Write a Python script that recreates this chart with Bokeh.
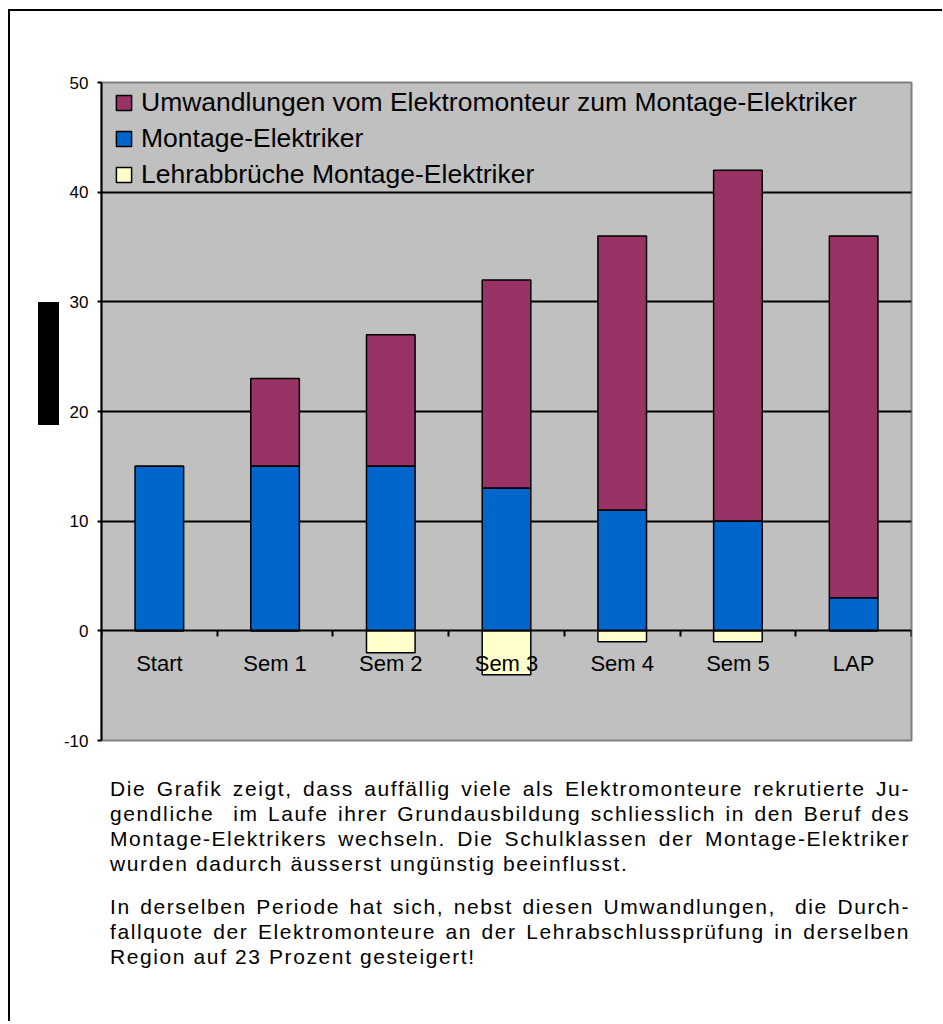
from bokeh.plotting import figure
from bokeh.models import (FixedTicker, Legend, LegendItem, Div,
                          ColumnDataSource, Range1d)
from bokeh.layouts import column, row
from bokeh.embed import file_html
from bokeh.resources import INLINE

# ---------------- data ----------------
categories = ["Start", "Sem 1", "Sem 2", "Sem 3", "Sem 4", "Sem 5", "LAP"]
montage_elektriker = [15, 15, 15, 13, 11, 10, 3]
umwandlungen = [0, 8, 12, 19, 25, 32, 33]
lehrabbrueche = [0, 0, -2, -4, -1, -1, 0]
y_ticks = [-10, 0, 10, 20, 30, 40, 50]
grid_ticks = [10, 20, 30, 40]
series_names = ["Umwandlungen vom Elektromonteur zum Montage-Elektriker",
                "Montage-Elektriker",
                "Lehrabbrüche Montage-Elektriker"]
series_colors = ["#993366", "#0066CC", "#FFFFCC"]

paragraph1 = ["Die Grafik zeigt, dass auffällig viele als Elektromonteure rekrutierte Ju-",
              "gendliche&nbsp; im Laufe ihrer Grundausbildung schliesslich in den Beruf des",
              "Montage-Elektrikers wechseln. Die Schulklassen der Montage-Elektriker",
              "wurden dadurch äusserst ungünstig beeinflusst."]
paragraph2 = ["In derselben Periode hat sich, nebst diesen Umwandlungen,&nbsp; die Durch-",
              "fallquote der Elektromonteure an der Lehrabschlussprüfung in derselben",
              "Region auf 23 Prozent gesteigert!"]

FONT = "Liberation Sans"

n = len(categories)
xs = [i + 0.5 for i in range(n)]
src = ColumnDataSource(dict(
    x=xs,
    m=montage_elektriker,
    top_u=[m + u for m, u in zip(montage_elektriker, umwandlungen)],
    a=lehrabbrueche,
    zero=[0] * n,
))

p = figure(frame_width=810, frame_height=658,
           x_range=Range1d(0, n), y_range=Range1d(y_ticks[0], y_ticks[-1]),
           output_backend="svg", toolbar_location=None,
           min_border_left=42, min_border_right=31,
           min_border_top=71, min_border_bottom=20)
p.background_fill_color = "#C0C0C0"
p.border_fill_color = "white"
p.outline_line_color = "#808080"
p.outline_line_width = 2

bar_w = 0.42
r_u = p.vbar(x="x", bottom="m", top="top_u", width=bar_w, source=src,
             fill_color=series_colors[0], line_color="black", line_width=1.5)
r_m = p.vbar(x="x", bottom="zero", top="m", width=bar_w, source=src,
             fill_color=series_colors[1], line_color="black", line_width=1.5)
r_a = p.vbar(x="x", bottom="a", top="zero", width=bar_w, source=src,
             fill_color=series_colors[2], line_color="black", line_width=1.5)

# grid
p.xgrid.visible = False
p.ygrid.ticker = FixedTicker(ticks=grid_ticks)
p.ygrid.grid_line_color = "black"
p.ygrid.grid_line_width = 2

# y axis
yax = p.yaxis[0]
yax.ticker = FixedTicker(ticks=y_ticks)
yax.major_label_overrides = {t: str(t) for t in y_ticks}
yax.axis_line_color = "black"
yax.axis_line_width = 2
yax.major_tick_out = 4
yax.major_tick_in = 0
yax.major_tick_line_width = 2
yax.minor_tick_line_color = None
yax.major_label_text_font = FONT
yax.major_label_text_font_size = "17px"
yax.major_label_text_color = "black"
yax.major_label_standoff = 9

# x axis at zero
xax = p.xaxis[0]
xax.fixed_location = 0
xax.ticker = FixedTicker(ticks=xs, minor_ticks=list(range(n + 1)))
xax.major_label_overrides = {x: c for x, c in zip(xs, categories)}
xax.axis_line_color = "black"
xax.axis_line_width = 2
xax.major_tick_out = 0
xax.major_tick_in = 0
xax.minor_tick_out = 6
xax.minor_tick_in = 0
xax.minor_tick_line_color = "black"
xax.minor_tick_line_width = 2
xax.major_label_text_font = FONT
xax.major_label_text_font_size = "22px"
xax.major_label_text_color = "black"
xax.major_label_standoff = 14

legend = Legend(items=[LegendItem(label=series_names[0], renderers=[r_u]),
                       LegendItem(label=series_names[1], renderers=[r_m]),
                       LegendItem(label=series_names[2], renderers=[r_a])],
                location=(7, 544), orientation="vertical")
legend.background_fill_alpha = 0
legend.border_line_alpha = 0
legend.label_text_font = FONT
legend.label_text_font_size = "26.5px"
legend.label_text_color = "black"
legend.glyph_width = 19
legend.glyph_height = 19
legend.label_standoff = 8
legend.label_height = 30
legend.spacing = 5
legend.padding = 6
legend.margin = 0
p.add_layout(legend)

# redaction block left of the value axis
black_box = Div(text="", width=21, height=123, margin=(291, 0, 0, 28),
                styles={"background-color": "black"})


def para(lines, first_margin):
    out = []
    for i, line in enumerate(lines):
        last = i == len(lines) - 1
        align = ("text-align:left;" if last
                 else "text-align:justify;text-align-last:justify;")
        mt = f"margin-top:{first_margin}px;" if i == 0 else ""
        out.append(f'<div style="width:800px;white-space:nowrap;{align}{mt}">{line}</div>')
    return "".join(out)


html = para(paragraph1, 0) + para(paragraph2, 18)
div = Div(text=html, width=800, height=245, margin=(16, 0, 0, 100),
          styles={"font-family": FONT, "font-size": "21px",
                  "letter-spacing": "1.6px",
                  "line-height": "25px", "color": "black"})

layout = column(row(black_box, p), div, margin=(9, 0, 0, 8),
                styles={"border-left": "2px solid black",
                        "border-top": "2px solid black"})

open("out.html", "w").write(file_html(layout, INLINE))
